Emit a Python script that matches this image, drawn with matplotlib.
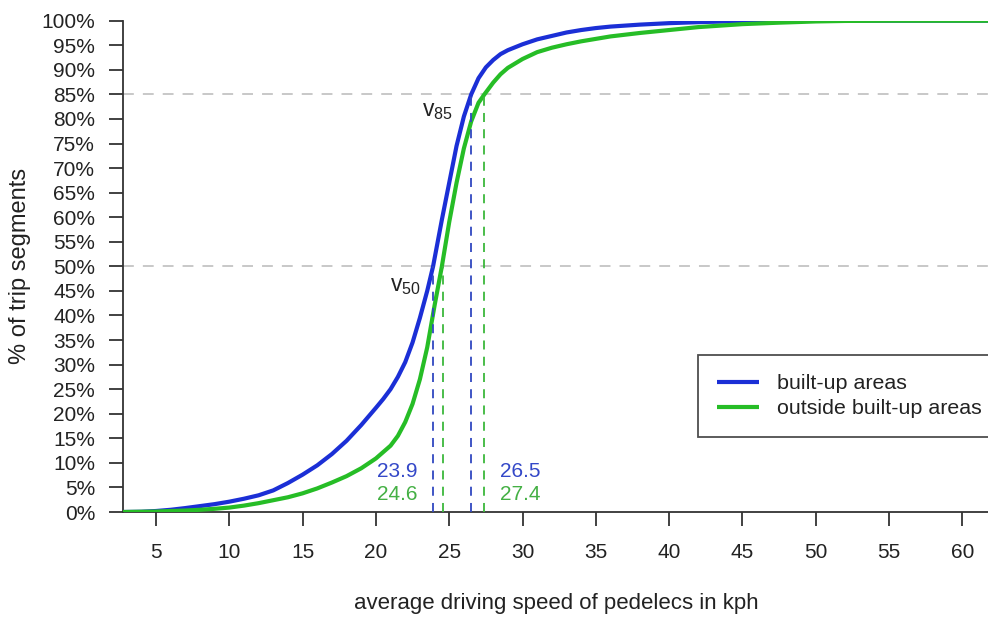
import matplotlib
matplotlib.use("Agg")
import matplotlib.pyplot as plt
from matplotlib.ticker import FixedLocator

plt.rcParams['font.family'] = ['Liberation Sans', 'DejaVu Sans']

# ---------------- data ----------------
speed_builtup = [2.75, 4, 5, 6, 7, 8, 9, 10, 11, 12, 13, 14, 15, 16, 17, 18, 19, 20,
                 20.5, 21, 21.5, 22, 22.5, 23, 23.5, 23.9, 24.5, 25, 25.5, 26, 26.5,
                 27, 27.5, 28, 28.5, 29, 30, 31, 32, 33, 34, 35, 36, 38, 40, 42.5,
                 45, 50, 62]
pct_builtup = [0, 0.05, 0.2, 0.45, 0.8, 1.2, 1.6, 2.1, 2.7, 3.4, 4.4, 5.9, 7.6, 9.5,
               11.8, 14.5, 17.7, 21.2, 23.0, 25.0, 27.5, 30.5, 34.5, 39.5, 45.0, 50.0,
               59.5, 67.0, 74.5, 80.5, 85.0, 88.3, 90.5, 92.0, 93.2, 94.0, 95.2, 96.2,
               96.9, 97.6, 98.1, 98.5, 98.8, 99.2, 99.5, 99.75, 99.9, 100, 100]

speed_outside = [2.75, 5, 7, 8, 9, 10, 11, 12, 13, 14, 15, 16, 17, 18, 19, 20, 21,
                 21.5, 22, 22.5, 23, 23.5, 24, 24.5, 25, 25.5, 26, 26.5, 27, 27.4,
                 28, 28.5, 29, 30, 31, 32, 33, 34, 35, 36, 38, 40, 42, 45, 47.5, 50,
                 52, 55, 62]
pct_outside = [0, 0.1, 0.3, 0.45, 0.65, 0.9, 1.3, 1.8, 2.4, 3.0, 3.8, 4.8, 6.0, 7.3,
               8.9, 10.9, 13.5, 15.5, 18.3, 22.0, 27.0, 33.5, 42.0, 50.0, 59.0, 67.0,
               74.0, 79.5, 83.3, 85.0, 87.4, 89.1, 90.4, 92.2, 93.6, 94.5, 95.2, 95.8,
               96.3, 96.8, 97.5, 98.1, 98.7, 99.3, 99.6, 99.85, 99.95, 100, 100]

series_labels = ["built-up areas", "outside built-up areas"]
v50 = [23.9, 24.6]
v85 = [26.5, 27.4]
ref_levels = [50, 85]

x_ticks = list(range(5, 61, 5))
y_ticks = list(range(0, 101, 5))
y_ticklabels = [f"{t}%" for t in y_ticks]

# ---------------- style ----------------
BLUE = "#1b2fd6"
GREEN = "#26bd26"
BLUE_TXT = "#3448c8"
GREEN_TXT = "#44b044"
BLUE_DASH = "#3048c0"
GREEN_DASH = "#3cb83c"
TXT = "#222222"

W, H = 988, 617
fig = plt.figure(figsize=(W / 100, H / 100), dpi=100)
ax = fig.add_axes([123 / W, 1 - 512 / H, 1 - 123 / W, (512 - 20.7) / H])

ax.set_xlim(2.75, 61.75)
ax.set_ylim(0, 100)

# reference horizontal lines
for lv in ref_levels:
    ax.axhline(lv, color="#c4c4c4", lw=1.3, dashes=(6, 5), zorder=1)

# CDF curves
ax.plot(speed_builtup, pct_builtup, color=BLUE, lw=3.0, label=series_labels[0],
        solid_capstyle="butt", solid_joinstyle="round", zorder=3)
ax.plot(speed_outside, pct_outside, color=GREEN, lw=3.0, label=series_labels[1],
        solid_capstyle="butt", solid_joinstyle="round", zorder=3)

# vertical dashed lines at v50 / v85
ax.vlines([v50[0], v85[0]], 0, ref_levels, colors=BLUE_DASH, lw=1.3,
          linestyles=(0, (5, 4)), zorder=4)
ax.vlines([v50[1], v85[1]], 0, ref_levels, colors=GREEN_DASH, lw=1.3,
          linestyles=(0, (5, 4)), zorder=4)

# annotations
ax.text(24.2, 81.8, r"$\mathregular{v_{85}}$", fontsize=16.5, color=TXT,
        ha="center", va="center")
ax.text(22.0, 46.2, r"$\mathregular{v_{50}}$", fontsize=16.5, color=TXT,
        ha="center", va="center")
ax.text(22.85, 8.3, f"{v50[0]:.1f}", color=BLUE_TXT, fontsize=15, ha="right", va="center")
ax.text(22.85, 3.5, f"{v50[1]:.1f}", color=GREEN_TXT, fontsize=15, ha="right", va="center")
ax.text(28.45, 8.3, f"{v85[0]:.1f}", color=BLUE_TXT, fontsize=15, ha="left", va="center")
ax.text(28.45, 3.5, f"{v85[1]:.1f}", color=GREEN_TXT, fontsize=15, ha="left", va="center")

# axes styling (R-like L box)
for s in ["top", "right"]:
    ax.spines[s].set_visible(False)
for s in ["left", "bottom"]:
    ax.spines[s].set_color("#333333")
    ax.spines[s].set_linewidth(1.3)

ax.xaxis.set_major_locator(FixedLocator(x_ticks))
ax.set_xticklabels([str(t) for t in x_ticks])
ax.yaxis.set_major_locator(FixedLocator(y_ticks))
ax.set_yticklabels(y_ticklabels)
ax.tick_params(axis="both", direction="out", length=10, width=1.3, color="#333333",
               labelsize=15, labelcolor=TXT)
ax.tick_params(axis="y", pad=10)
ax.tick_params(axis="x", pad=12)

fig.text(556 / W, 1 - 604 / H, "average driving speed of pedelecs in kph",
         fontsize=16, color=TXT, ha="center", va="center")
fig.text(20 / W, 1 - 266 / H, "% of trip segments", fontsize=17, color=TXT,
         ha="center", va="center", rotation=90)

leg = ax.legend(loc="upper left", bbox_to_anchor=(698 / W, 1 - 355 / H),
                bbox_transform=fig.transFigure, fontsize=15.4, frameon=True,
                fancybox=False, borderaxespad=0, borderpad=0.9, handlelength=1.95,
                handletextpad=0.85, labelspacing=0.28)
leg.get_frame().set_edgecolor("#222222")
leg.get_frame().set_linewidth(1.3)
for t in leg.get_texts():
    t.set_color(TXT)

fig.savefig("out.png", dpi=100)
